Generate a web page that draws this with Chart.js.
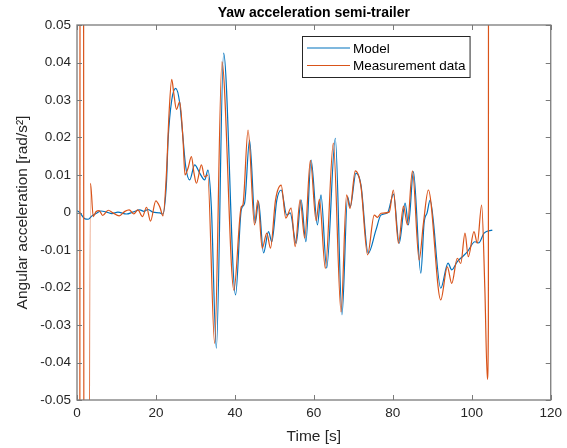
<!DOCTYPE html>
<html>
<head>
<meta charset="utf-8">
<script src="https://cdn.jsdelivr.net/npm/chart.js@4.4.1/dist/chart.umd.min.js"></script>
<style>
  html, body { margin: 0; padding: 0; background: #fff; }
</style>
</head>
<body>
<canvas id="myChart" width="567" height="448"></canvas>
<script>
// simulated yaw acceleration of the semi-trailer
const modelTime = [0, 0.76, 2.02, 2.85, 3.79, 4.98, 6.06, 7.5, 8.84, 10.36, 12.56, 14.15, 15.92, 16.93, 17.94, 19.2,
  20.97, 21.73, 22.66, 23.07, 24.0, 25.01, 26.02, 26.6, 27.54, 28.55, 29.81, 31.08, 32.34, 33.17, 34.03, 35.3,
  37.14, 40.17, 41.61, 42.45, 43.71, 45.15, 45.98, 47.25, 48.51, 49.34, 50.61, 51.72, 53.13, 54.0, 55.51, 56.77,
  57.98, 59.3, 60.9, 61.8, 63.24, 65.44, 67.13, 68.55, 69.2, 70.67, 71.93, 73.77, 75.72, 76.98, 78.65, 80.17,
  81.61, 83.12, 83.96, 85.22, 87.09, 87.92, 88.68, 89.44, 92.14, 93.99, 94.92, 96.34, 97.6, 98.86, 100.8, 101.8,
  103.1, 105.2];
const modelAccel = [0.0005, -0.0001, -0.0017, -0.0018, -0.0009, -0.0002, 0.0004, 0.0001, -0.0003, 0.0001, -0.0004, 0.0001, 0.0007, 0.0003, 0.0008, 0.0001,
  -0.0001, -0.0004, 0.0079, 0.0193, 0.030, 0.0331, 0.0292, 0.0229, 0.0122, 0.0087, 0.0127, 0.0105, 0.0087, 0.0113, 0.0015, -0.0362,
  0.0425, -0.022, 0.0007, 0.0025, 0.0193, -0.0028, 0.0029, -0.0108, -0.0051, -0.0078, 0.0033, 0.006, -0.0007, -0.0001, -0.0082, 0.0033,
  -0.0078, 0.014, -0.0033, 0.0047, -0.0148, 0.0198, -0.0273, 0.0042, 0.0015, 0.0105, 0.0073, -0.0109, -0.0047, -0.0007, -0.0001, 0.0049,
  -0.0082, 0.0025, -0.0033, 0.0109, -0.0162, -0.0028, -0.0001, 0.0033, -0.0202, -0.0135, -0.0153, -0.0131, -0.0118, -0.0105, -0.0078, -0.0081,
  -0.0055, -0.0047];

// measured yaw acceleration (filter transients at both ends)
const measTime = [0.5, 1.05, 2.2, 3.41, 4.12, 4.8, 5.63, 6.49, 7.9, 9.1, 10.69, 12.13, 13.21, 14.4, 15.41, 16.6,
  17.61, 18.62, 19.96, 20.97, 21.8, 22.66, 23.32, 24.0, 24.51, 25.19, 26.02, 26.86, 27.36, 28.12, 28.98, 29.64,
  30.24, 31.51, 32.34, 33.1, 34.87, 36.71, 39.74, 41.61, 42.02, 43.33, 44.97, 45.81, 46.92, 48.08, 49.01, 50.28,
  51.72, 52.9, 54.24, 55.26, 56.52, 57.68, 59.12, 60.56, 61.4, 62.91, 64.93, 66.88, 68.29, 69.15, 70.49, 71.93,
  73.6, 75.29, 76.13, 77.0, 79.08, 80.13, 81.43, 82.7, 83.7, 84.97, 86.66, 87.75, 89.0, 92.14, 93.81, 94.92,
  96.34, 97.2, 98.28, 99.12, 100.56, 101.4, 102.5, 103.3, 103.95, 104.2, 104.45];
const measAccel = [-0.9, 0.9, -0.6, 0.0078, -0.0011, 0.0002, 0.0005, -0.0008, 0.0006, -0.0001, -0.0009, 0.0003, 0.0007, -0.0004, 0.0007, -0.0011,
  0.0014, -0.0023, 0.0031, 0.0015, -0.0009, 0.0105, 0.0265, 0.0355, 0.0318, 0.0275, 0.0295, 0.0193, 0.010, 0.0118, 0.0149, 0.0105,
  0.0078, 0.0127, 0.0095, 0.010, -0.0349, 0.0402, -0.0207, 0.0015, 0.002, 0.022, -0.0033, 0.0033, -0.0095, -0.0055, -0.0095, 0.0033,
  0.0073, -0.0015, 0.0012, -0.0091, 0.0034, -0.0068, 0.0139, -0.0022, 0.0035, -0.0149, 0.0185, -0.0265, 0.0047, 0.0011, 0.0111, 0.0069,
  -0.0113, -0.0007, -0.0013, -0.0002, 0.0001, 0.006, -0.0082, 0.0017, -0.0033, 0.0111, -0.0127, -0.0029, 0.006, -0.0233, -0.0145, -0.0189,
  -0.0122, -0.0136, -0.0055, -0.0118, -0.0051, -0.0082, 0.002, -0.02, -0.0445, -0.03, 0.8];

const xTicks = [0, 20, 40, 60, 80, 100, 120];
const yTicks = [-0.05, -0.04, -0.03, -0.02, -0.01, 0, 0.01, 0.02, 0.03, 0.04, 0.05];

const FONT = "'Liberation Sans', Arial, Helvetica, sans-serif";
const TEXT = '#262626';
const AXIS = '#7a7a7a';

function points(xs, ys) {
  return xs.map((t, i) => ({ x: t, y: ys[i] }));
}

// box, inward ticks, title and legend in MATLAB style
const matlabAxes = {
  id: 'matlabAxes',
  afterDraw(chart) {
    const { ctx, chartArea: a, scales } = chart;
    const x = scales.x, y = scales.y;
    ctx.save();

    ctx.strokeStyle = AXIS;
    ctx.lineWidth = 1;
    ctx.beginPath();
    xTicks.forEach(v => {
      const px = Math.round(x.getPixelForValue(v)) + 0.5;
      ctx.moveTo(px, a.bottom); ctx.lineTo(px, a.bottom - 5);
      ctx.moveTo(px, a.top); ctx.lineTo(px, a.top + 5);
    });
    yTicks.forEach(v => {
      const py = Math.round(y.getPixelForValue(v)) + 0.5;
      ctx.moveTo(a.left, py); ctx.lineTo(a.left + 5, py);
      ctx.moveTo(a.right, py); ctx.lineTo(a.right - 5, py);
    });
    ctx.stroke();
    ctx.lineWidth = 1.3;
    ctx.strokeRect(a.left, a.top, a.right - a.left, a.bottom - a.top);

    // title
    ctx.fillStyle = '#000';
    ctx.font = 'bold 14px ' + FONT;
    ctx.textAlign = 'center';
    ctx.textBaseline = 'middle';
    ctx.fillText('Yaw acceleration semi-trailer', (a.left + a.right) / 2, 13);

    // legend
    ctx.font = '13.5px ' + FONT;
    const ds = chart.data.datasets;
    const textW = Math.max(...ds.map(d => ctx.measureText(d.label).width));
    const lx = a.left + 225, ly = a.top + 11;
    const w = 49 + textW + 6, h = 41;
    ctx.fillStyle = '#fff';
    ctx.fillRect(lx, ly, w, h);
    ctx.strokeStyle = TEXT;
    ctx.lineWidth = 1;
    ctx.strokeRect(lx + 0.5, ly + 0.5, w, h);
    ds.forEach((d, i) => {
      const ry = ly + 12 + i * 17.5;
      ctx.strokeStyle = d.borderColor;
      ctx.lineWidth = 1.2;
      ctx.beginPath();
      ctx.moveTo(lx + 5, ry); ctx.lineTo(lx + 48, ry);
      ctx.stroke();
      ctx.fillStyle = '#000';
      ctx.textAlign = 'left';
      ctx.fillText(d.label, lx + 51, ry + 1);
    });
    ctx.restore();
  }
};

const data = {
  datasets: [{
    label: 'Model',
    data: points(modelTime, modelAccel),
    borderColor: '#0072BD',
    order: 1
  }, {
    label: 'Measurement data',
    data: points(measTime, measAccel),
    borderColor: '#D95319',
    order: 0
  }]
};

const config = {
  type: 'line',
  data: data,
  plugins: [matlabAxes],
  options: {
    responsive: false,
    animation: false,
    layout: {
      padding: { top: 25, right: 16, left: 0, bottom: 0 }
    },
    elements: {
      point: { radius: 0 },
      line: { borderWidth: 1.2, cubicInterpolationMode: 'monotone', fill: false }
    },
    plugins: {
      legend: false,
      tooltip: { enabled: false }
    },
    scales: {
      x: {
        type: 'linear',
        min: 0,
        max: 120,
        afterFit: s => { s.height = 48; },
        afterBuildTicks: s => { s.ticks = xTicks.map(v => ({ value: v })); },
        grid: { display: false, drawTicks: false },
        border: { display: false },
        ticks: { color: TEXT, font: { family: FONT, size: 13.5 }, padding: 5, maxRotation: 0 },
        title: { display: true, text: 'Time [s]', color: TEXT, font: { family: FONT, size: 15.5 }, padding: { top: 0, bottom: 2 } }
      },
      y: {
        min: -0.05,
        max: 0.05,
        afterFit: s => { s.width = 77; },
        afterBuildTicks: s => { s.ticks = yTicks.map(v => ({ value: v })); },
        grid: { display: false, drawTicks: false },
        border: { display: false },
        ticks: {
          color: TEXT,
          font: { family: FONT, size: 13.5 },
          padding: 6,
          callback: v => String(Number(v.toFixed(2)))
        },
        title: { display: true, text: 'Angular acceleration [rad/s²]', color: TEXT, font: { family: FONT, size: 15.5 }, padding: { top: 13, bottom: 0 } }
      }
    }
  }
};

const myChart = new Chart(document.getElementById('myChart'), config);
</script>
</body>
</html>
